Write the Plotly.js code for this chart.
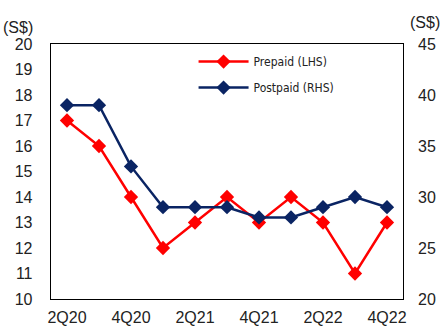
<!DOCTYPE html>
<html>
<head>
<meta charset="utf-8">
<script src="https://cdn.plot.ly/plotly-3.0.1.min.js"></script>
<style>html,body{margin:0;padding:0;background:#fff;}#chart{width:442px;height:331px;}</style>
</head>
<body>
<div id="chart"></div>
<script>
const quarters = ["2Q20","3Q20","4Q20","1Q21","2Q21","3Q21","4Q21","1Q22","2Q22","3Q22","4Q22"];
const prepaid = [17,16,14,12,13,14,13,14,13,11,13];
const postpaid = [39,39,33,29,29,29,28,28,29,30,29];
const tickQuarters = ["2Q20","4Q20","2Q21","4Q21","2Q22","4Q22"];
const leftTicks = [10,11,12,13,14,15,16,17,18,19,20];
const rightTicks = [20,25,30,35,40,45];

const baseFont = "Liberation Sans, Arial, sans-serif";
const narrowFont = "Liberation Sans Narrow, Arial Narrow, DejaVu Sans Condensed, sans-serif";

const traces = [
  {x: quarters, y: prepaid, name: "Prepaid (LHS)", type: "scatter", mode: "lines+markers",
   line: {color: "#FF0000", width: 2.5}, marker: {symbol: "diamond", size: 11, color: "#FF0000"},
   legendgroup: "a", yaxis: "y"},
  {x: quarters, y: postpaid, name: "Postpaid (RHS)", type: "scatter", mode: "lines+markers",
   line: {color: "#0A2463", width: 2.5}, marker: {symbol: "diamond", size: 11, color: "#0A2463"},
   legendgroup: "b", yaxis: "y2"}
];

const layout = {
  width: 442, height: 331,
  margin: {l: 51, r: 39, t: 44, b: 32},
  paper_bgcolor: "#fff", plot_bgcolor: "#fff",
  font: {family: baseFont, size: 16, color: "#222"},
  showlegend: true,
  legend: {x: 0.405, xanchor: "left", y: 0.988, yanchor: "top", bgcolor: "rgba(0,0,0,0)",
    font: {family: narrowFont, size: 12, color: "#222"}, itemwidth: 50,
    traceorder: "grouped", tracegroupgap: 7},
  xaxis: {type: "category", range: [-0.5, 10.5], tickmode: "array", tickvals: tickQuarters, ticktext: tickQuarters,
    showline: true, mirror: true, linecolor: "#000", linewidth: 1.3, showgrid: false, zeroline: false,
    ticks: "", ticklabelstandoff: 3, tickfont: {size: 16}},
  yaxis: {range: [10, 20], tickmode: "array", tickvals: leftTicks, showline: true, mirror: true,
    linecolor: "#000", linewidth: 1.3, showgrid: false, zeroline: false, ticks: "",
    ticklabelstandoff: 14, tickfont: {size: 16}},
  yaxis2: {range: [20, 45], tickmode: "array", tickvals: rightTicks, overlaying: "y", side: "right",
    showline: false, showgrid: false, zeroline: false, ticks: "", ticklabelstandoff: 14, tickfont: {size: 16}},
  annotations: [
    {text: "(S$)", xref: "paper", yref: "paper", x: 0, y: 1, xshift: -33, yshift: 17, xanchor: "center", yanchor: "middle",
     showarrow: false, font: {size: 16}},
    {text: "(S$)", xref: "paper", yref: "paper", x: 1, y: 1, xshift: 22, yshift: 22, xanchor: "center", yanchor: "middle",
     showarrow: false, font: {size: 16}}
  ]
};

Plotly.newPlot("chart", traces, layout, {displayModeBar: false, staticPlot: true});
</script>
</body>
</html>
